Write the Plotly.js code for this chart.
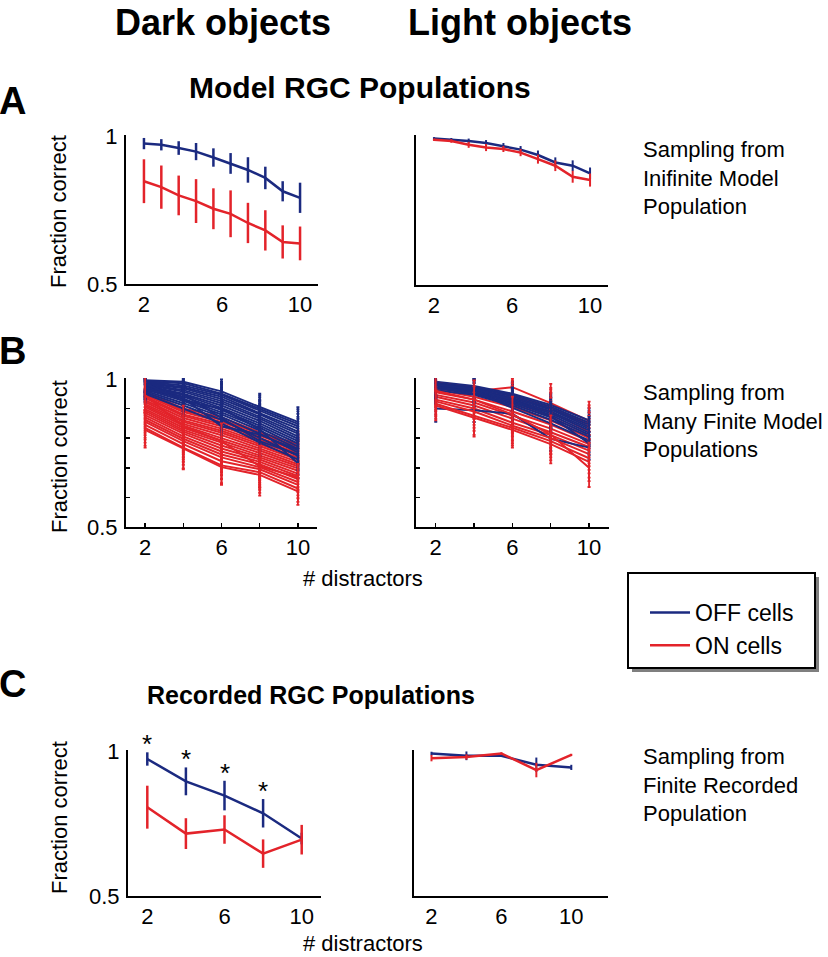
<!DOCTYPE html>
<html>
<head>
<meta charset="utf-8">
<script src="https://cdn.plot.ly/plotly-3.0.1.min.js"></script>
<style>html,body{margin:0;padding:0;background:#fff;}#chart{width:828px;height:957px;}</style>
</head>
<body>
<div id="chart"></div>
<script>
// ---------------- DATA ----------------
// Panel A: infinite model population, 10 distractor levels
const xA = [2, 2.89, 3.78, 4.67, 5.56, 6.44, 7.33, 8.22, 9.11, 10];
const offA_dark = [0.974, 0.970, 0.959, 0.947, 0.927, 0.907, 0.885, 0.858, 0.813, 0.791];
const offA_dark_err = [0.019, 0.019, 0.023, 0.029, 0.031, 0.035, 0.043, 0.038, 0.034, 0.051];
const onA_dark = [0.847, 0.827, 0.799, 0.780, 0.754, 0.737, 0.706, 0.681, 0.642, 0.637];
const onA_dark_err = [0.074, 0.073, 0.067, 0.074, 0.069, 0.079, 0.068, 0.068, 0.056, 0.057];
const offA_light = [0.991, 0.988, 0.983, 0.976, 0.966, 0.954, 0.936, 0.911, 0.900, 0.874];
const offA_light_err = [0.005, 0.005, 0.008, 0.010, 0.010, 0.012, 0.015, 0.017, 0.018, 0.020];
const onA_light = [0.987, 0.983, 0.970, 0.961, 0.956, 0.944, 0.922, 0.900, 0.863, 0.852];
const onA_light_err = [0.004, 0.006, 0.010, 0.012, 0.010, 0.012, 0.015, 0.018, 0.020, 0.022];

// Panel B: many finite model populations (x = 2,4,6,8,10)
const xB = [2, 4, 6, 8, 10];
const offB_dark = [
  [0.995, 0.990, 0.958, 0.905, 0.855],
  [0.992, 0.985, 0.950, 0.900, 0.848],
  [0.990, 0.978, 0.946, 0.893, 0.840],
  [0.988, 0.972, 0.940, 0.884, 0.832],
  [0.985, 0.968, 0.932, 0.880, 0.822],
  [0.983, 0.962, 0.925, 0.872, 0.815],
  [0.980, 0.957, 0.918, 0.866, 0.806],
  [0.978, 0.950, 0.910, 0.858, 0.798],
  [0.975, 0.946, 0.902, 0.850, 0.790],
  [0.972, 0.940, 0.895, 0.842, 0.782],
  [0.968, 0.933, 0.887, 0.835, 0.772],
  [0.965, 0.926, 0.880, 0.826, 0.764],
  [0.960, 0.918, 0.872, 0.815, 0.752],
  [0.955, 0.910, 0.862, 0.800, 0.740],
  [0.950, 0.900, 0.850, 0.785, 0.728],
  [0.970, 0.935, 0.840, 0.812, 0.760],
  [0.962, 0.948, 0.868, 0.790, 0.745],
  [0.985, 0.925, 0.900, 0.830, 0.715]
];
const offB_dark_err = [0.030, 0.035, 0.040, 0.045, 0.050];
const onB_dark = [
  [0.955, 0.900, 0.870, 0.820, 0.780],
  [0.950, 0.893, 0.862, 0.815, 0.772],
  [0.945, 0.888, 0.855, 0.808, 0.765],
  [0.940, 0.880, 0.848, 0.800, 0.758],
  [0.935, 0.875, 0.840, 0.795, 0.750],
  [0.928, 0.868, 0.832, 0.788, 0.742],
  [0.922, 0.860, 0.825, 0.780, 0.735],
  [0.915, 0.855, 0.818, 0.772, 0.728],
  [0.910, 0.848, 0.810, 0.765, 0.720],
  [0.905, 0.842, 0.800, 0.758, 0.712],
  [0.898, 0.835, 0.792, 0.750, 0.705],
  [0.892, 0.828, 0.785, 0.742, 0.698],
  [0.885, 0.822, 0.775, 0.735, 0.690],
  [0.878, 0.815, 0.765, 0.728, 0.680],
  [0.870, 0.806, 0.755, 0.720, 0.672],
  [0.862, 0.798, 0.745, 0.712, 0.662],
  [0.855, 0.790, 0.735, 0.702, 0.652],
  [0.845, 0.780, 0.722, 0.695, 0.642],
  [0.835, 0.768, 0.708, 0.685, 0.630],
  [0.828, 0.765, 0.702, 0.676, 0.620],
  [0.945, 0.840, 0.790, 0.705, 0.668]
];
const onB_dark_err = [0.060, 0.070, 0.060, 0.070, 0.045];
const offB_light = [
  [0.990, 0.976, 0.950, 0.912, 0.860],
  [0.987, 0.972, 0.946, 0.906, 0.852],
  [0.985, 0.970, 0.941, 0.900, 0.845],
  [0.982, 0.966, 0.936, 0.896, 0.838],
  [0.978, 0.962, 0.931, 0.890, 0.832],
  [0.975, 0.958, 0.926, 0.884, 0.826],
  [0.972, 0.955, 0.921, 0.878, 0.818],
  [0.968, 0.950, 0.916, 0.870, 0.812],
  [0.962, 0.946, 0.910, 0.862, 0.805],
  [0.900, 0.894, 0.882, 0.798, 0.768],
  [0.985, 0.960, 0.902, 0.850, 0.792],
  [0.980, 0.966, 0.930, 0.874, 0.782]
];
const offB_light_err = [0.045, 0.040, 0.040, 0.040, 0.040];
const onB_light = [
  [0.990, 0.958, 0.972, 0.918, 0.858],
  [0.986, 0.970, 0.942, 0.905, 0.846],
  [0.980, 0.964, 0.935, 0.899, 0.838],
  [0.975, 0.955, 0.926, 0.889, 0.822],
  [0.970, 0.949, 0.916, 0.872, 0.810],
  [0.964, 0.940, 0.905, 0.860, 0.800],
  [0.955, 0.930, 0.890, 0.846, 0.790],
  [0.946, 0.920, 0.876, 0.832, 0.780],
  [0.940, 0.910, 0.866, 0.820, 0.770],
  [0.930, 0.900, 0.852, 0.810, 0.758],
  [0.924, 0.890, 0.842, 0.800, 0.746],
  [0.916, 0.876, 0.835, 0.790, 0.732],
  [0.910, 0.870, 0.828, 0.780, 0.720],
  [0.960, 0.930, 0.880, 0.812, 0.700]
];
const onB_light_err = [0.050, 0.065, 0.060, 0.065, 0.065];

// Panel C: recorded populations
const xC = [2, 4, 6, 8, 10];
const offC_dark = [0.972, 0.895, 0.846, 0.785, 0.698];
const offC_dark_err = [0.023, 0.048, 0.051, 0.049, 0.020];
const onC_dark = [0.806, 0.715, 0.729, 0.646, 0.694];
const onC_dark_err = [0.074, 0.053, 0.049, 0.049, 0.051];
const offC_light = [0.991, 0.983, 0.983, 0.952, 0.943];
const offC_light_err = [0.006, 0.015, 0.004, 0.025, 0.009];
const onC_light = [0.975, 0.979, 0.991, 0.934, 0.986];
const onC_light_err = [0.011, 0.009, 0.004, 0.025, 0.004];
const sigX = [2, 4, 6, 8];   // significant differences (asterisks)

const xTickVals = [2, 4, 6, 8, 10];
const xTickText = ['2', '', '6', '', '10'];
const yTickValsB = [0.5, 0.6, 0.7, 0.8, 0.9, 1.0];

// ---------------- STYLE ----------------
const W = 828, H = 957;
const BLUE = '#1b2a80', RED = '#e3232a';
const FONT = 'Liberation Sans, Arial, Helvetica, sans-serif';
const px = v => v / W;
const py = v => 1 - v / H;

function line(x, y, err, color, ax, opt) {
  opt = opt || {};
  return {
    type: 'scatter', mode: 'lines', x: x, y: y,
    xaxis: 'x' + ax, yaxis: 'y' + ax,
    line: {color: color, width: opt.lw || 2.5},
    error_y: {type: 'data', array: err, visible: true, color: color,
              thickness: opt.et || 2.5, width: opt.cap || 0},
    name: opt.name || '', showlegend: !!opt.name, hoverinfo: 'skip'
  };
}

const traces = [];
// A
traces.push(line(xA, offA_dark, offA_dark_err, BLUE, '', {name: 'OFF cells'}));
traces.push(line(xA, onA_dark, onA_dark_err, RED, '', {name: 'ON cells'}));
traces.push(line(xA, offA_light, offA_light_err, BLUE, '2', {lw: 2.5, et: 2}));
traces.push(line(xA, onA_light, onA_light_err, RED, '2', {lw: 2.5, et: 2}));
// B (interleaved)
const bOpt = {lw: 2, et: 1.8, cap: 1.5};
for (let i = 0; i < Math.max(offB_dark.length, onB_dark.length); i++) {
  if (i < offB_dark.length) traces.push(line(xB, offB_dark[i], offB_dark_err, BLUE, '3', bOpt));
  if (i < onB_dark.length) traces.push(line(xB, onB_dark[i], onB_dark_err, RED, '3', bOpt));
}
for (let i = 0; i < Math.max(offB_light.length, onB_light.length); i++) {
  if (i < onB_light.length) traces.push(line(xB, onB_light[i], onB_light_err, RED, '4', bOpt));
  if (i < offB_light.length) traces.push(line(xB, offB_light[i], offB_light_err, BLUE, '4', bOpt));
}
// C
traces.push(line(xC, offC_dark, offC_dark_err, BLUE, '5'));
traces.push(line(xC, onC_dark, onC_dark_err, RED, '5'));
traces.push(line(xC, offC_light, offC_light_err, BLUE, '6', {lw: 2.5, et: 2}));
traces.push(line(xC, onC_light, onC_light_err, RED, '6', {lw: 2.5, et: 2}));

// Axes geometry in pixels
const panels = {
  '':  {x: [126, 318], y: [135, 284], xr: [1.08, 10.92], ylab: true,  ticks: false},
  '2': {x: [416, 608], y: [135, 285], xr: [1.08, 10.92], ylab: false, ticks: false},
  '3': {x: [126, 317], y: [378, 527], xr: [1.0, 11.0],   ylab: true,  ticks: true},
  '4': {x: [416, 609], y: [378, 527], xr: [0.97, 11.04], ylab: false, ticks: true},
  '5': {x: [128, 321], y: [750, 896], xr: [1.0, 11.0],   ylab: true,  ticks: false},
  '6': {x: [414, 608], y: [750, 896], xr: [1.0, 12.1],   ylab: false, ticks: false}
};

const layout = {
  width: W, height: H,
  margin: {l: 0, r: 0, t: 0, b: 0},
  paper_bgcolor: '#fff', plot_bgcolor: 'rgba(0,0,0,0)',
  font: {family: FONT, color: '#000', size: 22},
  showlegend: true,
  legend: {
    x: px(645), y: py(591), xanchor: 'left', yanchor: 'top',
    bgcolor: 'rgba(0,0,0,0)', borderwidth: 0,
    font: {family: FONT, size: 23, color: '#000'},
    itemwidth: 40, tracegroupgap: 0
  },
  annotations: [],
  shapes: []
};

Object.keys(panels).forEach(k => {
  const p = panels[k];
  const common = {
    showline: true, linecolor: '#000', linewidth: 2,
    showgrid: false, zeroline: false, fixedrange: true,
    tickfont: {family: FONT, size: 22, color: '#000'},
    ticks: p.ticks ? 'inside' : '', ticklen: p.ticks ? 4 : 0, tickwidth: 1.5, tickcolor: '#000',
    ticklabelstandoff: 0
  };
  layout['xaxis' + k] = Object.assign({}, common, {
    domain: [px(p.x[0]), px(p.x[1])], anchor: 'y' + k, range: p.xr,
    tickmode: 'array', tickvals: xTickVals, ticktext: xTickText
  });
  layout['yaxis' + k] = Object.assign({}, common, {
    domain: [py(p.y[1]), py(p.y[0])], anchor: 'x' + k, range: [0.5, 1.003],
    tickmode: 'array',
    tickvals: p.ticks ? yTickValsB : [0.5, 1.0],
    ticktext: p.ticks ? (p.ylab ? ['0.5', '', '', '', '', '1'] : ['', '', '', '', '', ''])
                      : (p.ylab ? ['0.5', '1'] : ['', '']),
    ticklabelstandoff: 2
  });
});

function ann(text, x, y, size, opts) {
  return Object.assign({
    text: text, xref: 'paper', yref: 'paper', x: px(x), y: py(y),
    showarrow: false, xanchor: 'center', yanchor: 'middle',
    font: {family: FONT, size: size, color: '#000'}
  }, opts || {});
}

const A = layout.annotations;
A.push(ann('<b>Dark objects</b>', 223, 1, 36, {yanchor: 'top', borderpad: 0}));
A.push(ann('<b>Light objects</b>', 520, 1, 36, {yanchor: 'top', borderpad: 0}));
A.push(ann('<b>Model RGC Populations</b>', 360, 87, 30));
A.push(ann('<b>Recorded RGC Populations</b>', 311, 695, 25));
A.push(ann('<b>A</b>', -3, 101, 38, {xanchor: 'left'}));
A.push(ann('<b>B</b>', -3, 351, 38, {xanchor: 'left'}));
A.push(ann('<b>C</b>', -3, 684, 38, {xanchor: 'left'}));
[212, 457, 818].forEach(yc => A.push(ann('Fraction correct', 59, yc, 22, {textangle: -90})));
A.push(ann('# distractors', 363, 578, 22));
A.push(ann('# distractors', 363, 943, 22));
A.push(ann('Sampling from<br>Inifinite Model<br>Population', 641, 178, 22, {xanchor: 'left', align: 'left'}));
A.push(ann('Sampling from<br>Many Finite Model<br>Populations', 641, 421, 22, {xanchor: 'left', align: 'left'}));
A.push(ann('Sampling from<br>Finite Recorded<br>Population', 641, 785, 22, {xanchor: 'left', align: 'left'}));
// asterisks above OFF-cell error bars in recorded dark-object panel
sigX.forEach(sx => {
  const i = xC.indexOf(sx);
  A.push({text: '*', xref: 'x5', yref: 'y5', x: sx, y: offC_dark[i] + offC_dark_err[i],
          showarrow: false, xanchor: 'center', yanchor: 'middle', yshift: 8,
          font: {family: FONT, size: 26, color: '#000'}});
});

// legend frame with drop shadow
layout.shapes.push({type: 'rect', xref: 'paper', yref: 'paper', layer: 'above',
  x0: px(632), x1: px(819), y0: py(672), y1: py(577),
  fillcolor: 'rgba(0,0,0,0.5)', line: {width: 0}});
layout.shapes.push({type: 'rect', xref: 'paper', yref: 'paper', layer: 'above',
  x0: px(628), x1: px(815), y0: py(668), y1: py(573),
  fillcolor: '#fff', line: {color: '#000', width: 2}});

Plotly.newPlot('chart', traces, layout, {staticPlot: true, displayModeBar: false});
</script>
</body>
</html>
